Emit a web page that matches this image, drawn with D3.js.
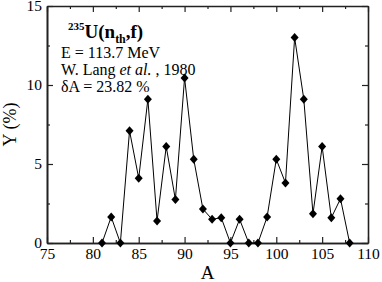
<!DOCTYPE html>
<html>
<head>
<meta charset="utf-8">
<script src="https://cdn.jsdelivr.net/npm/d3@7"></script>
<style>
  body { margin: 0; background: #fff; }
  svg text { font-family: "Liberation Serif", "Times New Roman", Times, serif !important; }
</style>
</head>
<body>
<div id="chart"></div>
<script>
// mass numbers and yields (%)
const massA = [81, 82, 83, 84, 85, 86, 87, 88, 89, 90, 91, 92, 93, 94, 95, 96, 97, 98, 99, 100, 101, 102, 103, 104, 105, 106, 107, 108];
const yields = [0, 1.65, 0, 7.1, 4.1, 9.1, 1.4, 6.1, 2.75, 10.45, 5.3, 2.15, 1.5, 1.6, 0, 1.5, 0, 0, 1.65, 5.3, 3.8, 13.0, 9.1, 1.85, 6.1, 1.6, 2.8, 0];
const xMajor = [75, 80, 85, 90, 95, 100, 105, 110];
const xMinor = [77.5, 82.5, 87.5, 92.5, 97.5, 102.5, 107.5];
const yMajor = [0, 5, 10, 15];
const yMinor = [2.5, 7.5, 12.5];

const W = 382, H = 282;
const margin = { top: 6, right: 14, bottom: 39, left: 47 };
const width = W - margin.left - margin.right;
const height = H - margin.top - margin.bottom;

const svg = d3.select("#chart").append("svg")
  .attr("width", W).attr("height", H);
const g = svg.append("g")
  .attr("transform", `translate(${margin.left},${margin.top})`);

const x = d3.scaleLinear().domain([75, 110]).range([0, width]);
const y = d3.scaleLinear().domain([0, 15]).range([height, 0]);

// axes with inward ticks on all four sides
function styleAxis(sel) {
  sel.select(".domain").attr("stroke", "#222").attr("stroke-width", 1.6);
  sel.selectAll(".tick line").attr("stroke", "#222").attr("stroke-width", 1.2);
  sel.selectAll("text").attr("font-size", 15.5).attr("fill", "#000");
}

g.append("g").attr("transform", `translate(0,${height})`)
  .call(d3.axisBottom(x).tickValues(xMajor).tickFormat(d3.format("d"))
    .tickSizeInner(-6).tickSizeOuter(0).tickPadding(5))
  .call(styleAxis);
g.append("g").attr("transform", `translate(0,${height})`)
  .call(d3.axisBottom(x).tickValues(xMinor).tickFormat("").tickSizeInner(-3).tickSizeOuter(0))
  .call(styleAxis);
g.append("g")
  .call(d3.axisTop(x).tickValues(xMajor.concat(xMinor)).tickFormat("")
    .tickSizeInner(-6).tickSizeOuter(0))
  .call(styleAxis)
  .call(s => s.selectAll(".tick").filter(d => xMinor.includes(d)).select("line").attr("y2", 3));

g.append("g")
  .call(d3.axisLeft(y).tickValues(yMajor).tickFormat(d3.format("d"))
    .tickSizeInner(-6).tickSizeOuter(0).tickPadding(5))
  .call(styleAxis);
g.append("g")
  .call(d3.axisLeft(y).tickValues(yMinor).tickFormat("").tickSizeInner(-3).tickSizeOuter(0))
  .call(styleAxis);
g.append("g").attr("transform", `translate(${width},0)`)
  .call(d3.axisRight(y).tickValues(yMajor.concat(yMinor)).tickFormat("")
    .tickSizeInner(-6).tickSizeOuter(0))
  .call(styleAxis)
  .call(s => s.selectAll(".tick").filter(d => yMinor.includes(d)).select("line").attr("x2", -3));

// axis titles
svg.append("text")
  .attr("x", margin.left + width / 2).attr("y", 279)
  .attr("text-anchor", "middle").attr("font-size", 19)
  .text("A");
svg.append("text")
  .attr("transform", `translate(16,${margin.top + height / 2}) rotate(-90)`)
  .attr("text-anchor", "middle").attr("font-size", 18)
  .text("Y (%)");

// data line and markers
const pts = massA.map((a, i) => [a, yields[i]]);
g.append("path")
  .datum(pts)
  .attr("fill", "none").attr("stroke", "#000").attr("stroke-width", 1)
  .attr("d", d3.line().x(d => x(d[0])).y(d => y(d[1])));

g.selectAll(".pt").data(pts).join("path")
  .attr("class", "pt")
  .attr("transform", d => `translate(${x(d[0])},${y(d[1])})`)
  .attr("d", "M0,-4.5L4,0L0,4.5L-4,0Z")
  .attr("fill", "#000");

// annotation
const note = svg.append("g");
const t1 = note.append("text").attr("x", 68).attr("y", 38).attr("font-weight", "bold");
t1.append("tspan").attr("font-size", 11).attr("dy", -8).text("235");
t1.append("tspan").attr("font-size", 19).attr("dy", 8).text("U(n");
t1.append("tspan").attr("font-size", 12).attr("dy", 5).text("th");
t1.append("tspan").attr("font-size", 19).attr("dy", -5).text(",f)");

note.append("text").attr("x", 61).attr("y", 58).attr("font-size", 16).text("E = 113.7 MeV");
const t3 = note.append("text").attr("x", 61).attr("y", 75).attr("font-size", 16);
t3.append("tspan").text("W. Lang ");
t3.append("tspan").attr("font-style", "italic").text("et al.");
t3.append("tspan").text(" , 1980");
note.append("text").attr("x", 61).attr("y", 91.5).attr("font-size", 16).text("δA = 23.82 %");
</script>
</body>
</html>
